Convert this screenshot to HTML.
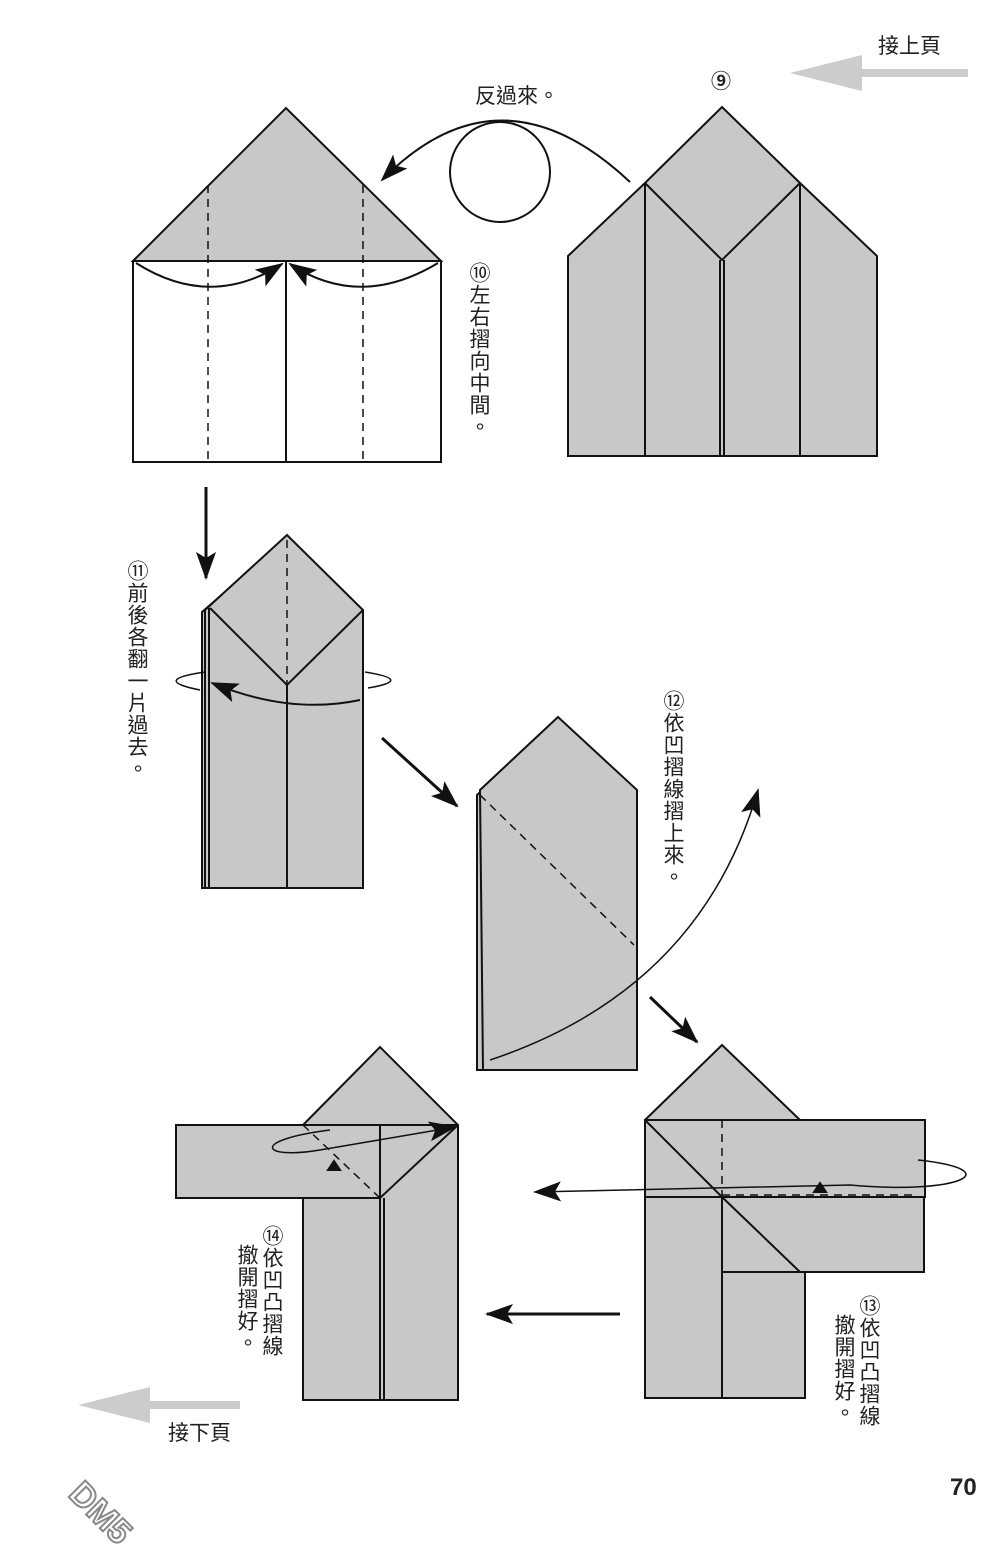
<!DOCTYPE html>
<html><head><meta charset="utf-8"><style>
body{margin:0;background:#fff}
.w{position:relative;width:1000px;height:1567px;overflow:hidden;font-family:"Liberation Sans","Noto Sans CJK TC",sans-serif}
.t{position:absolute;font-size:21px;color:#222;line-height:1}
.v{writing-mode:vertical-rl;letter-spacing:1px}
</style></head><body><div class="w">
<svg width="1000" height="1567" style="position:absolute;left:0;top:0">
<defs>
<marker id="b" markerWidth="30" markerHeight="24" refX="26" refY="12" orient="auto" markerUnits="userSpaceOnUse"><path d="M0,2 L28,12 L0,22 L6,12z" fill="#111" stroke="none"/></marker>
</defs>
<g stroke="#111" stroke-width="2" fill="#c8c8c8">
<!-- fig 9 -->
<path d="M568,256 L645,183 L722,107 L800,183 L877,256 L877,456 L568,456Z"/>
<path d="M645,183V456 M800,183V456 M645,183 L722,260 L800,183 M720,260V456 M724,260V456" fill="none"/>
<!-- fig 10 -->
<path d="M133,261 L286,108 L441,261Z"/>
<rect x="133" y="261" width="308" height="201" fill="#fff"/>
<path d="M286,261V462" fill="none"/>
<path d="M208,185V462 M363,185V462" fill="none" stroke-dasharray="8,6" stroke-width="1.5"/>
<path d="M136,263 Q210,310 282,264" fill="none" marker-end="url(#b)"/>
<path d="M438,263 Q360,310 290,264" fill="none" marker-end="url(#b)"/>
<circle cx="500" cy="172" r="50" fill="none"/>
<path d="M630,182 Q500,60 382,180" fill="none" marker-end="url(#b)"/>
<!-- fig 11 -->
<path d="M202,612 L285,540 L360,612 L360,888 L202,888Z"/>
<path d="M205,610 L287,535 L363,610 L363,888 L205,888Z"/>
<path d="M209,888V608 M210,608 L287,685 L363,610 M287,685V888" fill="none"/>
<path d="M287,540V685" fill="none" stroke-dasharray="8,6" stroke-width="1.5"/>
<path d="M360,700 Q290,715 212,683" fill="none" marker-end="url(#b)"/>
<path d="M205,672 Q150,680 200,690 M365,672 Q415,680 368,688" fill="none" stroke-width="1.5"/>
<!-- fig 12 -->
<path d="M477,795 L556,721 L634,795 L634,1070 L477,1070Z"/>
<path d="M480,790 L558,717 L637,790 L637,1070 L483,1070Z"/>
<path d="M480,795 L634,945" fill="none" stroke-dasharray="8,6" stroke-width="1.5"/>
<path d="M490,1060 Q700,990 758,790" fill="none" stroke-width="1.5" marker-end="url(#b)"/>
<!-- fig 13 -->
<path d="M645,1120 L722,1045 L800,1120 L805,1120 L805,1398 L645,1398Z"/>
<rect x="645" y="1120" width="280" height="77"/>
<rect x="722" y="1197" width="202" height="75"/>
<path d="M722,1197V1398 M645,1120 L722,1197 M722,1197 L800,1272" fill="none"/>
<path d="M722,1120V1197 M722,1195H918" fill="none" stroke-dasharray="8,6" stroke-width="1.5"/>
<path d="M918,1160 C1010,1170 960,1195 850,1185 L535,1192" fill="none" stroke-width="1.5" marker-end="url(#b)"/>
<path d="M814,1192 L820,1183 L826,1192Z" fill="#111"/>
<!-- fig 14 -->
<path d="M303,1125 L380,1047 L458,1125 L458,1400 L303,1400Z"/>
<rect x="176" y="1125" width="204" height="73"/>
<path d="M380,1198 L458,1125 M380,1198V1400 M384,1198V1400 M380,1125H458" fill="none"/>
<path d="M303,1125 L380,1198 M380,1125V1198" fill="none" stroke-dasharray="8,6" stroke-width="1.5"/>
<path d="M330,1130 C250,1140 260,1160 320,1150 L455,1127" fill="none" stroke-width="1.5" marker-end="url(#b)"/>
<path d="M328,1170 L334,1161 L340,1170Z" fill="#111"/>
<!-- big arrows -->
<path d="M206,487V578" fill="none" stroke-width="3" marker-end="url(#b)"/>
<path d="M382,738 L457,806" fill="none" stroke-width="3" marker-end="url(#b)"/>
<path d="M650,997 L697,1042" fill="none" stroke-width="3" marker-end="url(#b)"/>
<path d="M620,1314 H487" fill="none" stroke-width="3" marker-end="url(#b)"/>
</g>
<g fill="#ccc">
<rect x="835" y="69" width="133" height="8"/><path d="M790,73 L862,55 L862,91Z"/>
<rect x="120" y="1401" width="120" height="8"/><path d="M78,1405 L150,1387 L150,1423Z"/>
</g>
<text x="86" y="1490" font-family="Liberation Sans" font-weight="bold" font-size="34" fill="#fff" stroke="#888" stroke-width="2" transform="rotate(45 70 1470)">DM5</text>
</svg>
<div class="t" style="left:475px;top:86px">反過來。</div>
<div class="t" style="left:878px;top:36px">接上頁</div>
<div class="t" style="left:168px;top:1423px">接下頁</div>
<div class="t" style="left:711px;top:72px;font-size:20px;font-weight:bold">⑨</div>
<div class="t" style="left:950px;top:1476px;font-weight:bold;font-size:24px">70</div>
<div class="t v" style="left:468px;top:262px">⑩左右摺向中間。</div>
<div class="t v" style="left:126px;top:560px">⑪前後各翻一片過去。</div>
<div class="t v" style="left:662px;top:690px">⑫依凹摺線摺上來。</div>
<div class="t v" style="left:858px;top:1295px">⑬依凹凸摺線</div>
<div class="t v" style="left:833px;top:1314px">撤開摺好。</div>
<div class="t v" style="left:261px;top:1225px">⑭依凹凸摺線</div>
<div class="t v" style="left:236px;top:1244px">撤開摺好。</div>
</div></body></html>
